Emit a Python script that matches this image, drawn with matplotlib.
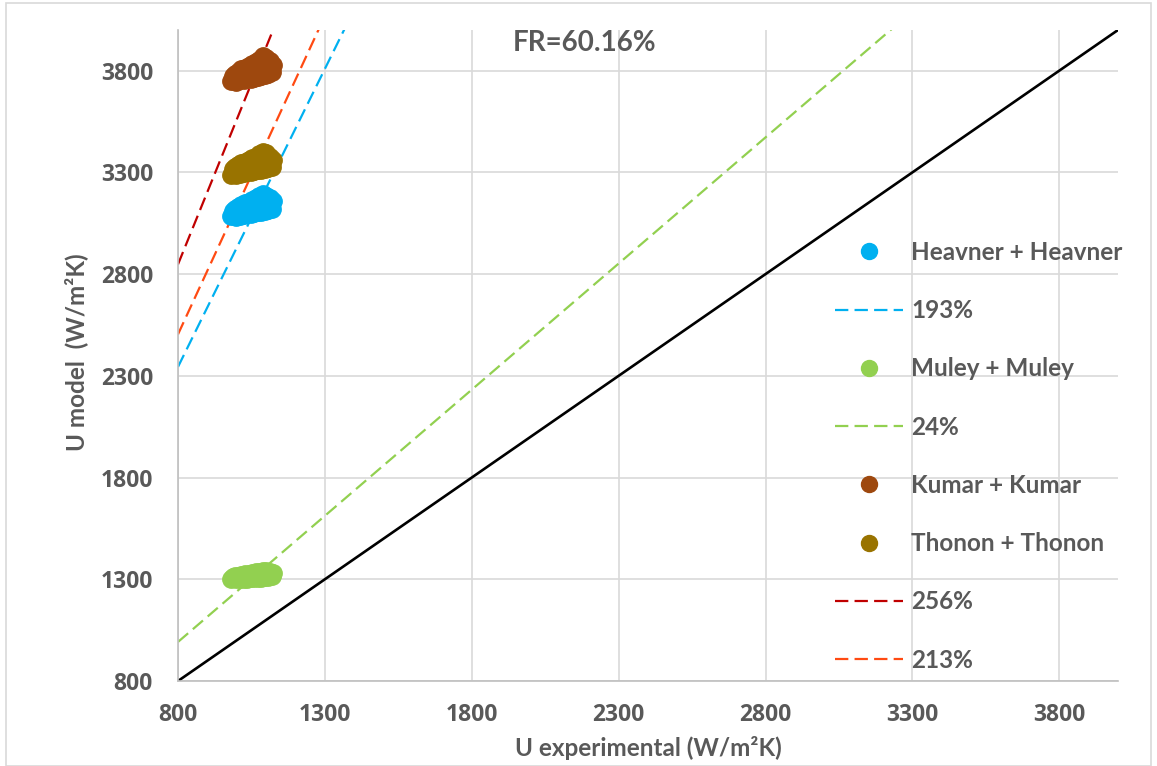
import matplotlib
matplotlib.use("Agg")
import matplotlib.pyplot as plt
from matplotlib.patches import Rectangle

# ---------------- data ----------------
u_exp = [982, 986, 990, 995, 999, 1003, 1008, 1012, 1016, 1020, 1024, 1028,
         1032, 1036, 1040, 1044, 1048, 1052, 1056, 1060, 1064, 1068, 1072, 1076,
         1080, 1084, 1088, 1092, 1096, 1100, 1104, 1108, 1112, 1116, 1120, 1122]
heavner = [3085, 3108, 3094, 3120, 3082, 3130, 3105, 3086, 3140, 3115, 3090, 3148,
           3125, 3094, 3155, 3130, 3096, 3165, 3140, 3100, 3172, 3145, 3104, 3182,
           3150, 3106, 3194, 3160, 3110, 3186, 3150, 3114, 3172, 3140, 3122, 3158]
muley = [1300, 1309, 1304, 1314, 1299, 1318, 1308, 1301, 1322, 1312, 1302, 1325,
         1316, 1303, 1328, 1318, 1304, 1332, 1322, 1306, 1335, 1324, 1307, 1338,
         1326, 1308, 1343, 1330, 1310, 1340, 1326, 1312, 1335, 1322, 1315, 1329]
kumar = [3748, 3772, 3758, 3786, 3746, 3796, 3770, 3752, 3806, 3780, 3756, 3815,
         3792, 3758, 3822, 3796, 3761, 3832, 3806, 3766, 3842, 3812, 3770, 3852,
         3818, 3772, 3872, 3830, 3778, 3864, 3822, 3782, 3846, 3810, 3792, 3828]
thonon = [3288, 3315, 3296, 3328, 3286, 3335, 3312, 3292, 3348, 3320, 3296, 3352,
          3330, 3301, 3362, 3338, 3302, 3370, 3345, 3308, 3378, 3352, 3310, 3390,
          3356, 3312, 3402, 3366, 3316, 3394, 3358, 3321, 3378, 3346, 3328, 3362]

dev_labels = ["193%", "24%", "256%", "213%"]
dev_values = [193, 24, 256, 213]
line_x = [800, 4000]
ticks = [800, 1300, 1800, 2300, 2800, 3300, 3800]
title_text = "FR=60.16%"

# ---------------- styling ----------------
plt.rcParams['font.family'] = ['Lato', 'DejaVu Sans']
gray_txt = "#595959"
c_heav = "#00B0F0"
c_mul = "#92D050"
c_kum = "#9E480E"
c_tho = "#997300"
c_256 = "#C00000"
c_213 = "#FF4A12"

fig = plt.figure(figsize=(11.57, 7.66), dpi=100)
fig.patches.append(Rectangle((6/1157, 0), 1 - 12/1157, 1 - 3/766, transform=fig.transFigure,
                             fill=False, edgecolor="#D9D9D9", linewidth=1.2))
ax = fig.add_axes([178/1157, 1 - 681/766, (1118 - 178)/1157, (681 - 30)/766])

ax.set_xlim(800, 4000)
ax.set_ylim(800, 4000)
ax.set_xticks(ticks)
ax.set_yticks(ticks)
ax.grid(True, color="#D9D9D9", linewidth=1.2)
ax.set_axisbelow(True)
for s in ["top", "right"]:
    ax.spines[s].set_visible(False)
for s in ["left", "bottom"]:
    ax.spines[s].set_color("#BFBFBF")
    ax.spines[s].set_linewidth(1.2)
ax.tick_params(length=0, labelcolor=gray_txt)
ax.tick_params(axis='x', pad=16)
ax.tick_params(axis='y', pad=18)
for lab in ax.get_xticklabels() + ax.get_yticklabels():
    lab.set_fontweight("bold")
    lab.set_fontfamily(["Open Sans", "DejaVu Sans"])
    lab.set_fontsize(16.5)

# 1:1 line
ax.plot(line_x, line_x, color="black", linewidth=1.9, zorder=2)

def dev_line(p):
    return [x * (1 + p / 100.0) for x in line_x]

dash = (6, 2.8)
ms = 12.5
lw = 1.6
h1, = ax.plot(u_exp, heavner, 'o', color=c_heav, markersize=ms, label="Heavner + Heavner", zorder=3)
l193, = ax.plot(line_x, dev_line(dev_values[0]), color=c_heav, lw=lw, dashes=dash, label=dev_labels[0], zorder=2)
h2, = ax.plot(u_exp, muley, 'o', color=c_mul, markersize=ms, label="Muley + Muley", zorder=3)
l24, = ax.plot(line_x, dev_line(dev_values[1]), color=c_mul, lw=lw, dashes=dash, label=dev_labels[1], zorder=2)
h3, = ax.plot(u_exp, kumar, 'o', color=c_kum, markersize=ms, label="Kumar + Kumar", zorder=3)
h4, = ax.plot(u_exp, thonon, 'o', color=c_tho, markersize=ms, label="Thonon + Thonon", zorder=3)
l256, = ax.plot(line_x, dev_line(dev_values[2]), color=c_256, lw=lw, dashes=dash, label=dev_labels[2], zorder=2)
l213, = ax.plot(line_x, dev_line(dev_values[3]), color=c_213, lw=lw, dashes=dash, label=dev_labels[3], zorder=2)

leg = fig.legend(handles=[h1, l193, h2, l24, h3, h4, l256, l213],
                 loc="upper left", bbox_to_anchor=(835/1157, 1 - 241/766),
                 frameon=False, borderpad=0, borderaxespad=0, markerscale=11.5/12.5,
                 handlelength=2.8, handletextpad=0.33, labelspacing=1.45,
                 prop={'weight': 'bold', 'size': 17.5})
for t in leg.get_texts():
    t.set_color(gray_txt)

fig.text(585/1157, 1 - 43/766, title_text, ha="center", va="center",
         fontsize=20, fontweight="bold", color=gray_txt)

fig.text(648/1157, 1 - 748/766, "U experimental (W/m\u00b2K)", ha="center", va="center",
         fontsize=17.5, fontweight="bold", color=gray_txt)
fig.text(76/1157, 1 - 352/766, "U model  (W/m\u00b2K)", ha="center", va="center", rotation=90,
         fontsize=17.5, fontweight="bold", color=gray_txt)

fig.savefig("out.png", dpi=100)
